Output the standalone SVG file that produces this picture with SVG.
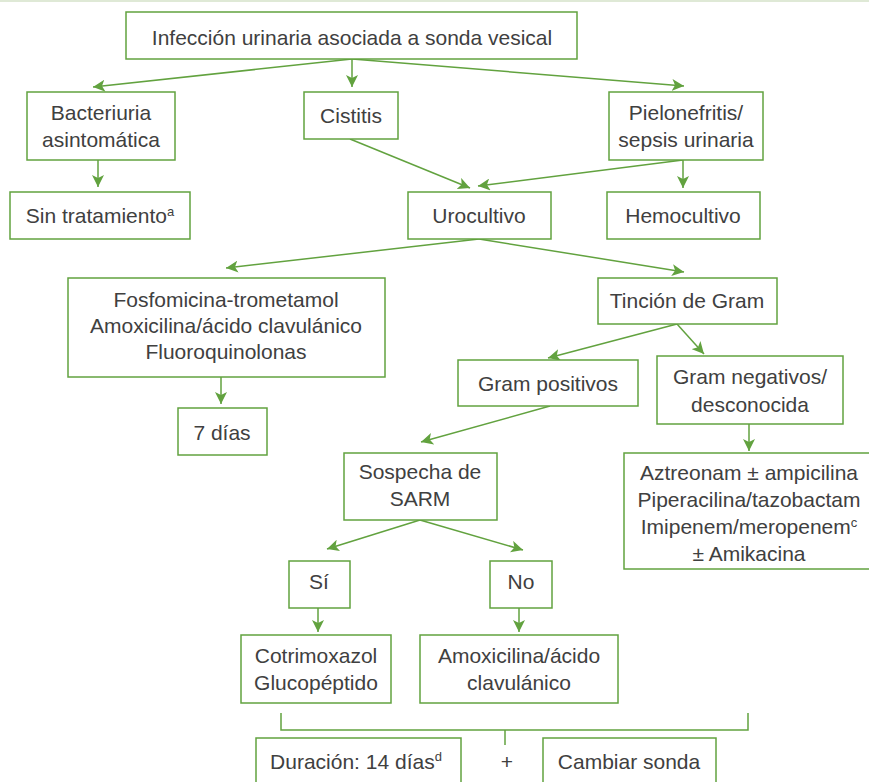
<svg xmlns="http://www.w3.org/2000/svg" width="869" height="782" viewBox="0 0 869 782">
<style>
.box{fill:#fff;stroke:#62a23f;stroke-width:1.5}
.t{font-family:"Liberation Sans",Arial,sans-serif;font-size:21px;fill:#404040;text-anchor:middle}
.sup{font-size:13px}
.c{stroke:#62a23f;stroke-width:1.5;fill:none}
.a{marker-end:url(#ah)}
</style>
<defs>
<marker id="ah" markerUnits="userSpaceOnUse" markerWidth="14" markerHeight="12" refX="12" refY="6" orient="auto">
<path d="M0,0 L12,6 L0,12 L3,6 Z" fill="#62a23f"/>
</marker>
</defs>
<rect x="0" y="0" width="869" height="782" fill="#fff"/>
<rect x="0" y="0" width="869" height="2" fill="#dfe9d6"/>

<g id="connectors">
<line class="c a" x1="352" y1="59" x2="93" y2="87"/>
<line class="c a" x1="352" y1="59" x2="352" y2="87"/>
<line class="c a" x1="352" y1="59" x2="684" y2="86"/>
<line class="c a" x1="98" y1="160" x2="98" y2="187"/>
<line class="c a" x1="350" y1="139" x2="470" y2="188"/>
<line class="c a" x1="683" y1="160" x2="478" y2="186"/>
<line class="c a" x1="683" y1="160" x2="683" y2="188"/>
<line class="c a" x1="479" y1="239" x2="226" y2="268"/>
<line class="c a" x1="479" y1="239" x2="684" y2="272"/>
<line class="c a" x1="221" y1="377" x2="221" y2="404"/>
<line class="c a" x1="677" y1="324" x2="548" y2="358"/>
<line class="c a" x1="677" y1="324" x2="704" y2="354"/>
<line class="c a" x1="550" y1="406" x2="421" y2="442"/>
<line class="c a" x1="749" y1="424" x2="749" y2="451"/>
<line class="c a" x1="420" y1="520" x2="327" y2="549"/>
<line class="c a" x1="420" y1="520" x2="523" y2="550"/>
<line class="c a" x1="318" y1="608" x2="318" y2="632"/>
<line class="c a" x1="519" y1="608" x2="519" y2="632"/>
<path class="c" d="M281,713 V730 H748 V713"/>
<line class="c" x1="505" y1="730" x2="505" y2="745"/>
</g>

<g id="n-top"><rect class="box" x="126" y="12" width="451" height="47"/><text class="t" x="352" y="45">Infección urinaria asociada a sonda vesical</text></g>
<g id="n-bacteriuria"><rect class="box" x="27" y="92" width="148" height="68"/><text class="t" x="101" y="120">Bacteriuria</text><text class="t" x="101" y="147">asintomática</text></g>
<g id="n-cistitis"><rect class="box" x="304" y="92" width="94" height="47"/><text class="t" x="351" y="123">Cistitis</text></g>
<g id="n-pielo"><rect class="box" x="609" y="92" width="154" height="68"/><text class="t" x="686" y="120">Pielonefritis/</text><text class="t" x="686" y="147">sepsis urinaria</text></g>
<g id="n-sintrat"><rect class="box" x="10" y="192" width="180" height="47"/><text class="t" x="100" y="223">Sin tratamiento<tspan class="sup" dy="-7">a</tspan></text></g>
<g id="n-urocultivo"><rect class="box" x="408" y="192" width="143" height="47"/><text class="t" x="479" y="223">Urocultivo</text></g>
<g id="n-hemocultivo"><rect class="box" x="607" y="192" width="153" height="47"/><text class="t" x="683" y="223">Hemocultivo</text></g>
<g id="n-fosfo"><rect class="box" x="68" y="278" width="317" height="99"/><text class="t" x="226" y="307">Fosfomicina-trometamol</text><text class="t" x="226" y="333">Amoxicilina/ácido clavulánico</text><text class="t" x="226" y="359">Fluoroquinolonas</text></g>
<g id="n-tincion"><rect class="box" x="598" y="278" width="179" height="46"/><text class="t" x="687" y="308">Tinción de Gram</text></g>
<g id="n-grampos"><rect class="box" x="458" y="360" width="180" height="46"/><text class="t" x="548" y="391">Gram positivos</text></g>
<g id="n-gramneg"><rect class="box" x="657" y="356" width="186" height="68"/><text class="t" x="750" y="384">Gram negativos/</text><text class="t" x="750" y="412">desconocida</text></g>
<g id="n-7dias"><rect class="box" x="178" y="408" width="89" height="47"/><text class="t" x="222" y="440">7 días</text></g>
<g id="n-sospecha"><rect class="box" x="344" y="453" width="153" height="67"/><text class="t" x="420" y="479">Sospecha de</text><text class="t" x="420" y="506">SARM</text></g>
<g id="n-aztreonam"><rect class="box" x="624" y="453" width="260" height="116"/><text class="t" x="749" y="480">Aztreonam ± ampicilina</text><text class="t" x="749" y="507">Piperacilina/tazobactam</text><text class="t" x="749" y="534">Imipenem/meropenem<tspan class="sup" dy="-7">c</tspan></text><text class="t" x="749" y="561">± Amikacina</text></g>
<g id="n-si"><rect class="box" x="289" y="561" width="61" height="47"/><text class="t" x="319" y="589">Sí</text></g>
<g id="n-no"><rect class="box" x="490" y="561" width="62" height="47"/><text class="t" x="521" y="589">No</text></g>
<g id="n-cotri"><rect class="box" x="241" y="635" width="150" height="68"/><text class="t" x="316" y="663">Cotrimoxazol</text><text class="t" x="316" y="690">Glucopéptido</text></g>
<g id="n-amoxi"><rect class="box" x="420" y="635" width="198" height="68"/><text class="t" x="519" y="663">Amoxicilina/ácido</text><text class="t" x="519" y="690">clavulánico</text></g>
<g id="n-duracion"><rect class="box" x="256" y="738" width="205" height="50"/><text class="t" x="356" y="769">Duración: 14 días<tspan class="sup" dy="-8">d</tspan></text></g>
<g id="n-plus"><text class="t" x="507" y="769">+</text></g>
<g id="n-cambiar"><rect class="box" x="543" y="738" width="173" height="50"/><text class="t" x="629" y="769">Cambiar sonda</text></g>
</svg>
